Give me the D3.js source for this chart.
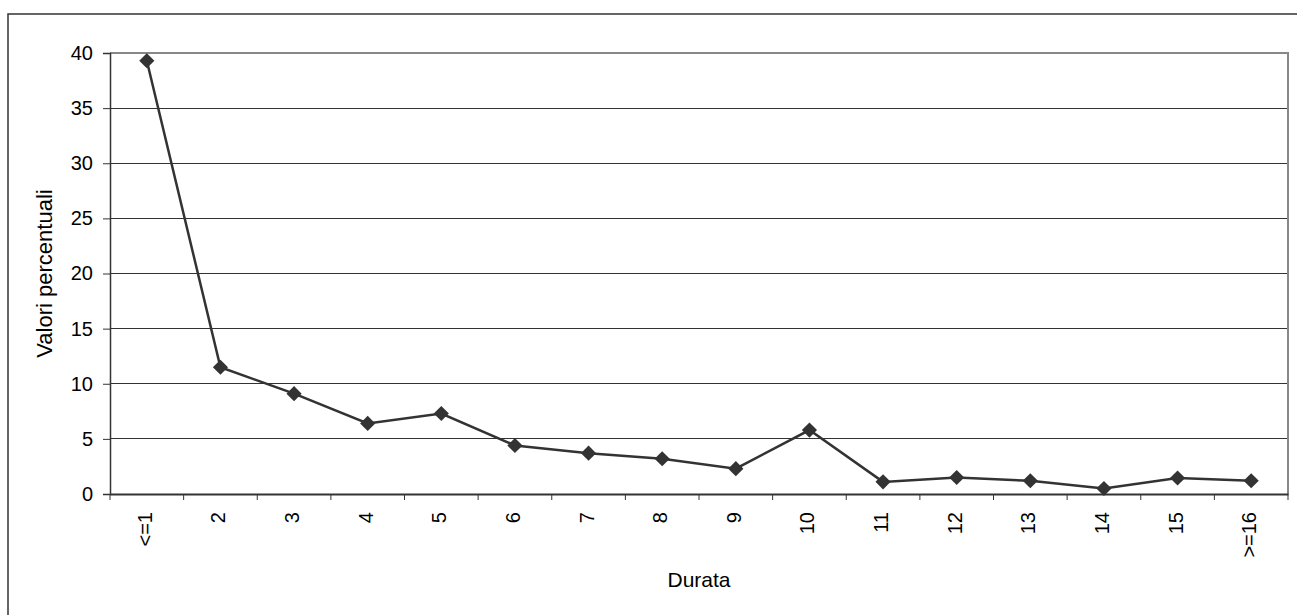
<!DOCTYPE html>
<html><head><meta charset="utf-8">
<script src="https://cdn.jsdelivr.net/npm/d3@7"></script>
<style>body{margin:0;background:#fff}svg{display:block}text{font-family:"Liberation Sans",Arial,sans-serif;fill:#000}</style>
</head><body>
<script>
const categories = ["<=1","2","3","4","5","6","7","8","9","10","11","12","13","14","15",">=16"];
const values = [39.3,11.5,9.1,6.4,7.3,4.4,3.7,3.2,2.3,5.8,1.1,1.5,1.2,0.5,1.45,1.2];
const yTicks = [0,5,10,15,20,25,30,35,40];

const W=1297,H=615;
const m={l:110,r:1288,t:53,b:494};
const FS=20;
const svg=d3.select("body").append("svg").attr("width",W).attr("height",H);
svg.append("rect").attr("x",8).attr("y",14).attr("width",1300).attr("height",620)
  .attr("fill","#fff").attr("stroke","#333").attr("stroke-width",1.5);

const x=d3.scaleBand().domain(categories).range([m.l,m.r]).padding(0);
const y=d3.scaleLinear().domain([0,40]).range([m.b,m.t]);

// gridlines
svg.append("g").selectAll("line").data(yTicks.filter(d=>d>0&&d<40)).join("line")
  .attr("x1",m.l).attr("x2",m.r).attr("y1",d=>y(d)).attr("y2",d=>y(d))
  .attr("stroke","#333").attr("stroke-width",1).attr("shape-rendering","crispEdges");
// plot border top/right gray
svg.append("path").attr("d",`M${m.l},${y(40)}H${m.r}V${m.b}`).attr("fill","none")
  .attr("stroke","#888").attr("stroke-width",2);

// y axis
const ya=svg.append("g").attr("transform",`translate(${m.l},0)`)
  .call(d3.axisLeft(y).tickValues(yTicks).tickSize(7).tickPadding(10).tickFormat(d3.format("d")));
ya.attr("font-size",null).attr("font-family",null);
ya.select(".domain").attr("stroke","#333").attr("stroke-width",1.5);
ya.selectAll(".tick line").attr("stroke","#333");
ya.selectAll("text").attr("font-size",FS).attr("fill","#000");

// x axis
const xa=svg.append("g").attr("transform",`translate(0,${m.b})`)
  .call(d3.axisBottom(x).tickSize(0).tickFormat(""));
xa.select(".domain").attr("stroke","#333").attr("stroke-width",2);
const bounds=categories.map((c,i)=>x(c)).concat([m.r]);
svg.append("g").selectAll("line").data(bounds).join("line")
  .attr("x1",d=>d).attr("x2",d=>d).attr("y1",m.b).attr("y2",m.b+6).attr("stroke","#333");
svg.append("g").selectAll("text").data(categories).join("text")
  .attr("transform",d=>`translate(${x(d)+x.bandwidth()/2+5},${m.b+18}) rotate(-90)`)
  .attr("text-anchor","end").attr("font-size",FS).text(d=>d);

// line
svg.append("path").datum(values)
  .attr("d",d3.line().x((d,i)=>x(categories[i])+x.bandwidth()/2).y(d=>y(d)))
  .attr("fill","none").attr("stroke","#333").attr("stroke-width",2.5);
svg.append("g").selectAll("path").data(values).join("path")
  .attr("transform",(d,i)=>`translate(${x(categories[i])+x.bandwidth()/2},${y(d)}) rotate(45)`)
  .attr("d",d3.symbol(d3.symbolSquare,115)).attr("fill","#333");

// titles
svg.append("text").attr("x",(m.l+m.r)/2).attr("y",587).attr("text-anchor","middle")
  .attr("font-size",21).text("Durata");
svg.append("text").attr("transform",`translate(52,${(m.t+m.b)/2}) rotate(-90)`)
  .attr("text-anchor","middle").attr("font-size",22).text("Valori percentuali");
</script>
</body></html>
